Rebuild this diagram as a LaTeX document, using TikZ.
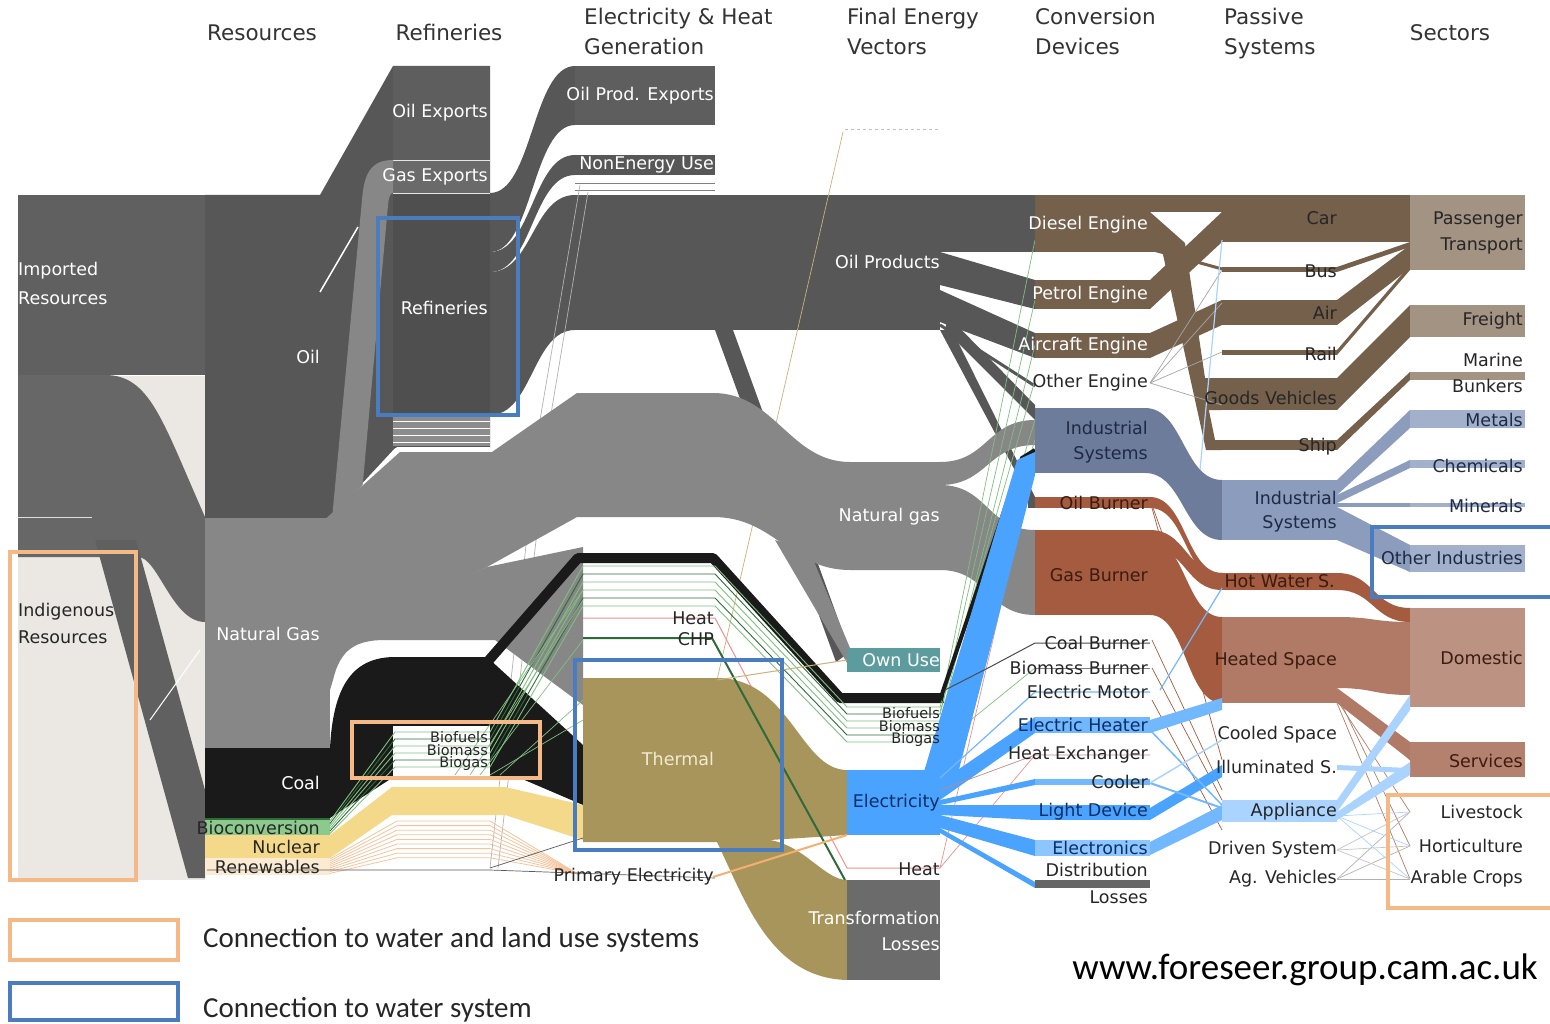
\documentclass[tikz,border=0pt]{standalone}
\usepackage{fontspec}
\setmainfont{DejaVu Sans}
\newfontfamily\carl{Carlito}
\definecolor{impc}{HTML}{606060}
\definecolor{impl}{HTML}{676767}
\definecolor{oilc}{HTML}{575757}
\definecolor{oilx}{HTML}{5E5E5E}
\definecolor{gasx}{HTML}{6A6A6A}
\definecolor{refc}{HTML}{4F4F4F}
\definecolor{gasc}{HTML}{878787}
\definecolor{coalc}{HTML}{1A1A1A}
\definecolor{bioc}{HTML}{8CC98C}
\definecolor{lgreen}{HTML}{7FBF7F}
\definecolor{dgreen}{HTML}{2F6B3A}
\definecolor{nucc}{HTML}{F5D98B}
\definecolor{renc}{HTML}{F5C49C}
\definecolor{renn}{HTML}{FBEBD2}
\definecolor{thermc}{HTML}{A8955B}
\definecolor{thlab}{HTML}{F2EBCF}
\definecolor{elec}{HTML}{4AA3FF}
\definecolor{elecm}{HTML}{72B8FF}
\definecolor{elecl}{HTML}{AAD4FF}
\definecolor{elab}{HTML}{0B2F66}
\definecolor{tealc}{HTML}{5C9C9E}
\definecolor{tlc}{HTML}{6B6B6B}
\definecolor{brownd}{HTML}{74604B}
\definecolor{brownl}{HTML}{A39382}
\definecolor{slate}{HTML}{6D7C9B}
\definecolor{slatel}{HTML}{8C9CBC}
\definecolor{slatell}{HTML}{A3B0CC}
\definecolor{navy}{HTML}{1E2A45}
\definecolor{rust}{HTML}{A45B3F}
\definecolor{rustl}{HTML}{B07A66}
\definecolor{rustll}{HTML}{BC9383}
\definecolor{rustd}{HTML}{3A1C10}
\definecolor{hdrc}{HTML}{333333}
\definecolor{bbox}{HTML}{4A7CC0}
\definecolor{obox}{HTML}{F5B887}
\definecolor{indig}{HTML}{EBE8E3}
\definecolor{pinkc}{HTML}{F09090}
\definecolor{tanc}{HTML}{C8B27A}
\definecolor{orl}{HTML}{F5B070}
\newcommand\sband[6]{(#1,#2) .. controls ({(#1+#4)/2},#2) and ({(#1+#4)/2},#5) .. (#4,#5) -- (#4,#6) .. controls ({(#1+#4)/2},#6) and ({(#1+#4)/2},#3) .. (#1,#3) -- cycle}
\newcommand\lband[6]{(#1,#2) -- (#4,#5) -- (#4,#6) -- (#1,#3) -- cycle}
\begin{document}
\begin{tikzpicture}[x=1pt,y=-1pt,
  lb/.style={font=\fontsize{17.5}{20}\selectfont, inner sep=0pt, anchor=east},
  wl/.style={lb, text=white},
  dl/.style={lb, text=black!85},
  sl/.style={font=\fontsize{14.5}{15}\selectfont, inner sep=0pt, anchor=east, text=black!85},
  hd/.style={font=\fontsize{21.5}{30}\selectfont, text=hdrc, inner sep=0pt, anchor=base west},
  bbx/.style={draw=bbox, line width=4.5pt},
  obx/.style={draw=obox, line width=4.5pt},
  hair/.style={line width=0.7pt}]
\useasboundingbox (0,0) rectangle (1550,1024);
\fill[white] (0,0) rectangle (1550,1024);

% ---------- left column ----------
\fill[indig] (18,557) rectangle (205,880);
\fill[indig] (105,376) -- (205,376) -- (205,517) -- cycle;
\fill[impc] (18,195) rectangle (205,375);
\fill[impl] (18,375) -- (105,375) .. controls (150,375) and (162,420) .. (205,517) -- (205,622) .. controls (172,622) and (158,557) .. (138,557) -- (18,557) -- cycle;
\draw[white!75!gray, line width=1pt] (18,517) -- (92,517);
\fill[impc] (95,540) -- (136,540) -- (205,790) -- (205,878) -- (188,878) -- cycle;
\draw[white, line width=1pt] (150,720) -- (200,650);

% ---------- oil ----------
\fill[oilc] (715,330) -- (733,330) -- (850,652) -- (836,662) -- cycle;
\fill[oilc] (205,195) -- (320,195) -- (393,66) -- (490,66) -- (490,448) -- (395,448) -- (330,518) -- (205,518) -- cycle;
\fill[oilx] (393,66) rectangle (490,160);
\fill[gasx] (393,160) rectangle (490,193);
\fill[refc] (393,193) rectangle (490,415);
\fill[black!45] (393,415) rectangle (490,446);
\foreach \yy in {421,428,435,442} \draw[white,line width=0.8pt] (393,\yy) -- (490,\yy);
\draw[white, line width=1.5pt] (320,292) -- (358,227);
\draw[white!80!gray, line width=0.6pt] (393,160) -- (490,160) (393,193) -- (490,193);
\fill[gasc] (393,160) .. controls (372,160) and (364,172) .. (362,200) -- (322,625) -- (350,625) -- (388,205) .. controls (389,197) and (390,193) .. (393,193) -- cycle;
\fill[oilc] \sband{490}{193}{252}{575}{66}{125};
\fill[oilc] \sband{490}{252}{272}{575}{155}{175};
\fill[oilc] \sband{490}{272}{415}{575}{195}{330};
\fill[oilx] (575,66) rectangle (715,125);
\fill[oilc] (575,155) rectangle (715,175);
\draw[gray, hair] (575,183) -- (715,183) (575,190) -- (715,190);
\fill[oilc] (575,195) rectangle (940,330);
\fill[oilc] (940,195) rectangle (1035,252);
\draw[gray!60, hair] (580,185) -- (540,420) -- (490,868);
\draw[gray!60, hair] (588,192) -- (550,420) -- (498,868);
\draw[gray!50, dashed, line width=1pt] (845,130) -- (940,130);
\draw[tanc, hair] (843,132) -- (717,680);

% ---------- natural gas ----------
\draw[white, line width=4pt] (345,508) -- (398,449) -- (490,449);
\fill[gasc] (775,540) -- (810,552) -- (850,648) -- (850,668) -- cycle;
\fill[gasc] (322,522) -- (400,452) -- (492,452) -- (577,393) -- (713,393) .. controls (775,393) and (790,462) .. (850,462) -- (940,462) -- (940,570) -- (850,570) .. controls (790,570) and (775,517) .. (713,517) -- (577,517) -- (487,567) -- (330,645) -- cycle;
\fill[gasc] (205,518) rectangle (330,748);
\fill[gasc] (330,640) -- (487,567) -- (583,547) -- (583,705) -- (495,640) -- (385,640) .. controls (355,640) and (340,650) .. (333,680) -- (330,690) -- cycle;

% ---------- coal ----------
\fill[coalc] (205,748) rectangle (330,818);
\fill[coalc] (330,748) .. controls (333,690) and (350,657) .. (395,657) -- (487,657) -- (583,745) -- (583,805) -- (520,778) -- (392,778) -- (330,818) -- cycle;
\draw[coalc, line width=10pt, line join=round] (483,667) -- (578,558) -- (713,558) -- (840,698) -- (944,698);

% ---------- nuclear, bio, renewables ----------
\fill[nucc] (205,835) rectangle (330,858);
\fill[nucc] (330,835) -- (392,787) -- (505,787) -- (583,805) -- (583,840) -- (505,815) -- (392,815) -- (330,858) -- cycle;
\fill[bioc] (205,818) rectangle (330,835);
\draw[dgreen, line width=1.2pt] (205,819) -- (330,819);
\fill[renn] (205,858) rectangle (330,875);
\foreach \i in {0,...,8} \draw[renc, line width=0.8pt] (330,{859+1.8*\i}) -- (397,{821+4.6*\i}) -- (490,{821+4.6*\i}) -- (578,874);
\fill[white] (393,726) rectangle (490,778);
\foreach \i/\c in {0/lgreen,1/dgreen,2/lgreen,3/lgreen,4/dgreen,5/lgreen}
  \draw[\c, line width=0.9pt] (330,{821+2.5*\i}) -- (395,{732+7*\i}) -- (490,{732+7*\i}) -- (583,{566+8*\i}) -- (715,{566+8*\i}) -- (847,{707+7*\i}) -- (940,{707+7*\i});
\foreach \a/\b in {470/600,480/640,500/700,490/720,455/590}
  \draw[lgreen, hair] (\a,775) -- (583,\b);
\draw[pinkc, line width=1pt] (583,618) -- (715,618) -- (847,868) -- (940,868);
\draw[gray!70!black, hair] (207,870) -- (490,870) -- (715,878);
\draw[gray!70!black, hair] (490,868) -- (583,838);

% ---------- thermal ----------
\fill[thermc] (583,678) -- (717,678) .. controls (790,678) and (800,770) .. (847,770) -- (847,835) -- (770,840) .. controls (805,846) and (825,880) .. (847,880) -- (847,980) .. controls (770,978) and (745,900) .. (717,842) -- (583,842) -- cycle;
\draw[dgreen, line width=2pt] (583,638) -- (712,638) -- (845,880);
\draw[tanc, line width=1pt] (717,680) -- (847,660);
\draw[orl, line width=2pt] (713,877) -- (847,835);

% ---------- final vectors ----------
\fill[tlc] (847,880) rectangle (940,980);
\fill[elec] (847,770) rectangle (940,835);
\fill[tealc] (847,648) rectangle (940,672);

% oil products to devices
\fill[oilc] (940,252) -- (1035,280) -- (1035,309) -- (940,285) -- cycle;
\fill[oilc] (940,290) -- (1035,333) -- (1035,358) -- (940,322) -- cycle;
\fill[oilc] (948,316) -- (1035,405) -- (1035,420) -- (945,330) -- cycle;
\fill[oilc] (940,330) -- (952,330) -- (1035,497) -- (1035,508) -- cycle;
\draw[oilc, line width=3pt] (940,325) -- (1035,386);
% gas to devices
\fill[gasc] \sband{940}{462}{485}{1035}{420}{445};
\fill[gasc] \sband{940}{485}{570}{1035}{530}{615};
% green lines up
\foreach \a/\b in {708/240,715/300,722/345,730/420,737/440,745/668,712/380}
  \draw[lgreen, hair] (940,\a) -- (1035,\b);
% coal to industry
\draw[coalc, line width=4pt] (940,700) -- (1022,458) -- (1035,450);

% ---------- transport ----------
\fill[brownd] (1035,195) rectangle (1150,252);
\fill[brownd] (1035,280) rectangle (1150,309);
\fill[brownd] (1035,333) rectangle (1150,358);
\fill[brownd] (1150,195) rectangle (1222,212);
\fill[brownd] (1150,212) -- (1185,243) -- (1205,378) -- (1222,378) -- (1222,410) -- (1198,410) -- (1168,252) -- (1150,252) -- cycle;
\fill[brownd] (1162,250) -- (1176,250) -- (1215,440) -- (1222,440) -- (1222,450) -- (1206,450) -- cycle;
\fill[brownd] \lband{1150}{280}{309}{1222}{212}{242};
\fill[brownd] \lband{1150}{333}{358}{1222}{300}{325};
\draw[brownd, line width=3pt] (1150,249) -- (1222,269);
\fill[brownd] (1222,195) rectangle (1410,242);
\fill[brownd] (1222,267) rectangle (1337,272);
\fill[brownd] (1222,300) rectangle (1337,325);
\fill[brownd] (1222,350) rectangle (1337,355);
\fill[brownd] (1222,378) rectangle (1337,410);
\fill[brownd] (1222,440) rectangle (1337,450);
\fill[brownd] \lband{1337}{267}{272}{1410}{242}{247};
\fill[brownd] \lband{1337}{300}{325}{1410}{245}{268};
\fill[brownd] \lband{1337}{350}{355}{1410}{265}{270};
\fill[brownd] \lband{1337}{378}{410}{1410}{305}{337};
\fill[brownd] \lband{1337}{440}{450}{1410}{372}{380};
\fill[brownl] (1410,195) rectangle (1525,270);
\fill[brownl] (1410,305) rectangle (1525,337);
\fill[brownl] (1410,372) rectangle (1525,380);
\foreach \b in {352,303,405,270} \draw[gray!70, hair] (1150,383) -- (1222,\b);
\draw[elecl, line width=1.2pt] (1222,240) -- (1200,470);

% ---------- industry ----------
\fill[slate] (1035,408) rectangle (1145,473);
\fill[slate] \sband{1145}{408}{473}{1222}{480}{540};
\fill[slatel] (1222,480) rectangle (1337,540);
\fill[slatel] \lband{1337}{480}{495}{1410}{410}{428};
\fill[slatel] \lband{1337}{495}{503}{1410}{460}{468};
\fill[slatel] \lband{1337}{503}{507}{1410}{503}{507};
\fill[slatel] \lband{1337}{507}{540}{1410}{545}{572};
\fill[slatell] (1410,410) rectangle (1525,428);
\fill[slatell] (1410,460) rectangle (1525,468);
\fill[slatell] (1410,503) rectangle (1525,507);
\fill[slatell] (1410,545) rectangle (1525,572);

% ---------- heat ----------
\fill[oilc] (1028,497) rectangle (1035,508);
\fill[rust] (1035,497) rectangle (1150,508);
\fill[rust] (1035,530) rectangle (1150,615);
\fill[rust] \sband{1150}{497}{508}{1222}{573}{582};
\fill[rust] \sband{1150}{530}{548}{1222}{573}{590};
\fill[rust] \sband{1150}{540}{615}{1222}{617}{703};
\fill[rust] (1222,573) rectangle (1337,590);
\fill[rust] \sband{1337}{573}{590}{1410}{608}{622};
\fill[rustl] (1222,617) rectangle (1337,703);
\fill[rustl] \sband{1337}{617}{688}{1410}{622}{695};
\fill[rustl] \lband{1337}{688}{703}{1410}{742}{760};
\fill[rustll] (1410,608) rectangle (1525,707);
\fill[rustl!95!white] (1410,742) rectangle (1525,777);
\foreach \a/\b in {505/700,508/760,640/790,668/800,700/830}
  \draw[rust, hair] (1152,\a) -- (1222,\b);
\foreach \a/\b in {700/812,703/879,690/760,695/846}
  \draw[rust!80, hair] (1337,\a) -- (1410,\b);
\draw[pinkc, hair] (940,868) -- (1030,480);
\draw[pinkc, hair] (940,868) -- (1035,755);

% ---------- electricity to devices ----------
\fill[elec] (920,785) -- (1017,460) -- (1035,452) -- (1035,475) -- (955,785) -- cycle;
\fill[elec] \lband{940}{782}{800}{1035}{717}{733};
\fill[elecm] (1035,717) rectangle (1150,733);
\fill[elec] \lband{940}{800}{805}{1035}{779}{785};
\fill[elecm] (1035,779) rectangle (1150,785);
\fill[elec] \lband{940}{805}{815}{1035}{805}{820};
\fill[elec] (1035,805) rectangle (1150,820);
\fill[elec] \lband{940}{815}{828}{1035}{840}{856};
\fill[elecl!70!elec] (1035,840) rectangle (1150,856);
\fill[elec] \lband{940}{828}{833}{1035}{882}{888};
\fill[black!60] (1035,880) rectangle (1150,888);
\draw[elecm, line width=1.2pt] (940,778) -- (1035,692) -- (1150,692);
\draw[pinkc!60!gray, hair] (940,790) -- (1035,755) -- (1150,755);
\draw[black!70, line width=1pt] (945,690) -- (990,667) -- (1035,643) -- (1150,643);
\draw[gray, hair] (1035,668) -- (1150,668);
\draw[elecm, line width=1.2pt] (1160,690) -- (1222,588);

% ---------- passive blue ----------
\fill[elecm] \lband{1150}{720}{733}{1222}{698}{710};
\fill[elec] \lband{1150}{808}{820}{1222}{765}{777};
\fill[elecm] \lband{1150}{842}{855}{1222}{805}{820};
\draw[elecm, line width=2pt] (1150,783) -- (1222,808);
\draw[elecm, line width=1.5pt] (1150,730) -- (1222,805);
\draw[elecl, line width=1.5pt] (1150,783) -- (1222,740);
\fill[elecl] (1222,800) rectangle (1337,822);
\fill[elecl] \lband{1337}{800}{812}{1410}{695}{710};
\fill[elecl] \lband{1337}{812}{820}{1410}{762}{775};
\fill[elecl] \lband{1337}{765}{770}{1410}{768}{773};
\foreach \b in {812,846,879} {
  \draw[elecl, hair] (1337,816) -- (1410,\b);
  \draw[gray!60, hair] (1337,879) -- (1410,\b);
  \draw[gray!45, hair] (1337,850) -- (1410,\b);
}

% ---------- headers ----------
\node[hd, anchor=base] (hRes) at (262,41) {Resources};
\node[hd, anchor=base] (hRef) at (449,41) {Refineries};
\node[hd] (hEH1) at (584,25) {Electricity \& Heat};
\node[hd] (hEH2) at (584,55) {Generation};
\node[hd] (hFE1) at (847,25) {Final Energy};
\node[hd] (hFE2) at (847,55) {Vectors};
\node[hd] (hCD1) at (1035,25) {Conversion};
\node[hd] (hCD2) at (1035,55) {Devices};
\node[hd] (hPS1) at (1224,25) {Passive};
\node[hd] (hPS2) at (1224,55) {Systems};
\node[hd, anchor=base] (hSec) at (1450,41) {Sectors};

% ---------- labels ----------
\node[wl, anchor=west] (tImp1) at (18,271) {Imported};
\node[wl, anchor=west] (tImp2) at (18,298) {Resources};
\node[dl, anchor=west] (tInd1) at (18,612) {Indigenous};
\node[dl, anchor=west] (tInd2) at (18,637) {Resources};
\node[wl] (tOil) at (320,357) {Oil};
\node[wl] (tNG) at (320,634) {Natural Gas};
\node[wl] (tCoal) at (320,783) {Coal};
\node[dl] (tBio) at (320,828) {Bioconversion};
\node[dl] (tNuc) at (320,847) {Nuclear};
\node[dl] (tRen) at (320,867) {Renewables};
\node[wl] (tOE) at (488,113) {Oil Exports};
\node[wl] (tGE) at (488,177) {Gas Exports};
\node[wl] (tRef) at (488,308) {Refineries};
\node[sl] (tBf1) at (488,737) {Biofuels};
\node[sl] (tBm1) at (488,750) {Biomass};
\node[sl] (tBg1) at (488,763) {Biogas};
\node[wl] (tOPE) at (714,96) {Oil Prod. Exports};
\node[wl] (tNEU) at (714,165) {NonEnergy Use};
\node[dl] (tHeat1) at (714,618) {Heat};
\node[dl] (tCHP) at (714,639) {CHP};
\node[lb, anchor=center, text=thlab] (tTherm) at (678,759) {Thermal};
\node[dl] (tPE) at (714,877) {Primary Electricity};
\node[wl] (tOP) at (940,262) {Oil Products};
\node[wl] (tNg) at (940,517) {Natural gas};
\node[wl] (tOU) at (940,660) {Own Use};
\node[sl] (tBf2) at (940,713) {Biofuels};
\node[sl] (tBm2) at (940,726) {Biomass};
\node[sl] (tBg2) at (940,739) {Biogas};
\node[lb, text=elab] (tEl) at (940,803) {Electricity};
\node[dl] (tHeat2) at (940,869) {Heat};
\node[wl] (tTL1) at (940,918) {Transformation};
\node[wl] (tTL2) at (940,944) {Losses};
\node[wl] (tDE) at (1148,225) {Diesel Engine};
\node[wl] (tPEn) at (1148,295) {Petrol Engine};
\node[wl] (tAE) at (1148,346) {Aircraft Engine};
\node[dl] (tOEn) at (1148,383) {Other Engine};
\node[lb, text=navy] (tIS1) at (1148,428) {Industrial};
\node[lb, text=navy] (tIS2) at (1148,455) {Systems};
\node[lb, text=rustd] (tOB) at (1148,503) {Oil Burner};
\node[lb, text=rustd] (tGB) at (1148,575) {Gas Burner};
\node[dl] (tCB) at (1148,643) {Coal Burner};
\node[dl] (tBB) at (1148,668) {Biomass Burner};
\node[dl] (tEM) at (1148,692) {Electric Motor};
\node[lb, text=elab] (tEH) at (1148,725) {Electric Heater};
\node[dl] (tHE) at (1148,755) {Heat Exchanger};
\node[dl] (tCo) at (1148,782) {Cooler};
\node[lb, text=elab] (tLD) at (1148,812) {Light Device};
\node[lb, text=elab] (tElc) at (1148,848) {Electronics};
\node[dl] (tDL1) at (1148,870) {Distribution};
\node[dl] (tDL2) at (1148,897) {Losses};
\node[dl] (tCar) at (1337,218) {Car};
\node[dl] (tBus) at (1337,271) {Bus};
\node[dl] (tAir) at (1337,313) {Air};
\node[dl] (tRail) at (1337,354) {Rail};
\node[dl] (tGV) at (1337,398) {Goods Vehicles};
\node[dl] (tShip) at (1337,447) {Ship};
\node[lb, text=navy] (tPI1) at (1337,498) {Industrial};
\node[lb, text=navy] (tPI2) at (1337,524) {Systems};
\node[lb, text=rustd] (tHW) at (1335,581) {Hot Water S.};
\node[lb, text=rustd] (tHS) at (1337,661) {Heated Space};
\node[dl] (tCS) at (1337,735) {Cooled Space};
\node[dl] (tIl) at (1337,767) {Illuminated S.};
\node[dl] (tAp) at (1337,812) {Appliance};
\node[dl] (tDS) at (1337,850) {Driven System};
\node[dl] (tAV) at (1337,879) {Ag. Vehicles};
\node[dl] (tPT1) at (1523,220) {Passenger};
\node[dl] (tPT2) at (1523,246) {Transport};
\node[dl] (tFr) at (1523,321) {Freight};
\node[dl] (tMB1) at (1523,360) {Marine};
\node[dl] (tMB2) at (1523,386) {Bunkers};
\node[lb, text=navy] (tMet) at (1523,420) {Metals};
\node[lb, text=navy] (tChem) at (1523,466) {Chemicals};
\node[lb, text=navy] (tMin) at (1523,506) {Minerals};
\node[lb, text=navy] (tOI) at (1523,558) {Other Industries};
\node[lb, text=rustd] (tDom) at (1523,658) {Domestic};
\node[lb, text=rustd] (tSer) at (1523,761) {Services};
\node[dl] (tLiv) at (1523,812) {Livestock};
\node[dl] (tHor) at (1523,846) {Horticulture};
\node[dl] (tAra) at (1523,879) {Arable Crops};

% ---------- highlight boxes ----------
\draw[bbx] (378,218) rectangle (518,415);
\draw[bbx] (575,660) rectangle (782,850);
\draw[bbx] (1372,527) rectangle (1565,597);
\draw[obx] (10,552) rectangle (136,880);
\draw[obx] (352,722) rectangle (540,778);
\draw[obx] (1388,795) rectangle (1565,908);

% ---------- legend ----------
\draw[obx] (10,920) rectangle (178,960);
\draw[bbx] (10,983) rectangle (178,1020);
\node[font=\carl\fontsize{29}{33}\selectfont, anchor=west, inner sep=0pt, text=black!85] (leg1) at (203,940) {Connection to water and land use systems};
\node[font=\carl\fontsize{29}{33}\selectfont, anchor=west, inner sep=0pt, text=black!85] (leg2) at (203,1010) {Connection to water system};
\node[font=\carl\fontsize{37}{40}\selectfont, anchor=east, inner sep=0pt] (url) at (1538,970) {www.foreseer.group.cam.ac.uk};
\end{tikzpicture}
\end{document}
